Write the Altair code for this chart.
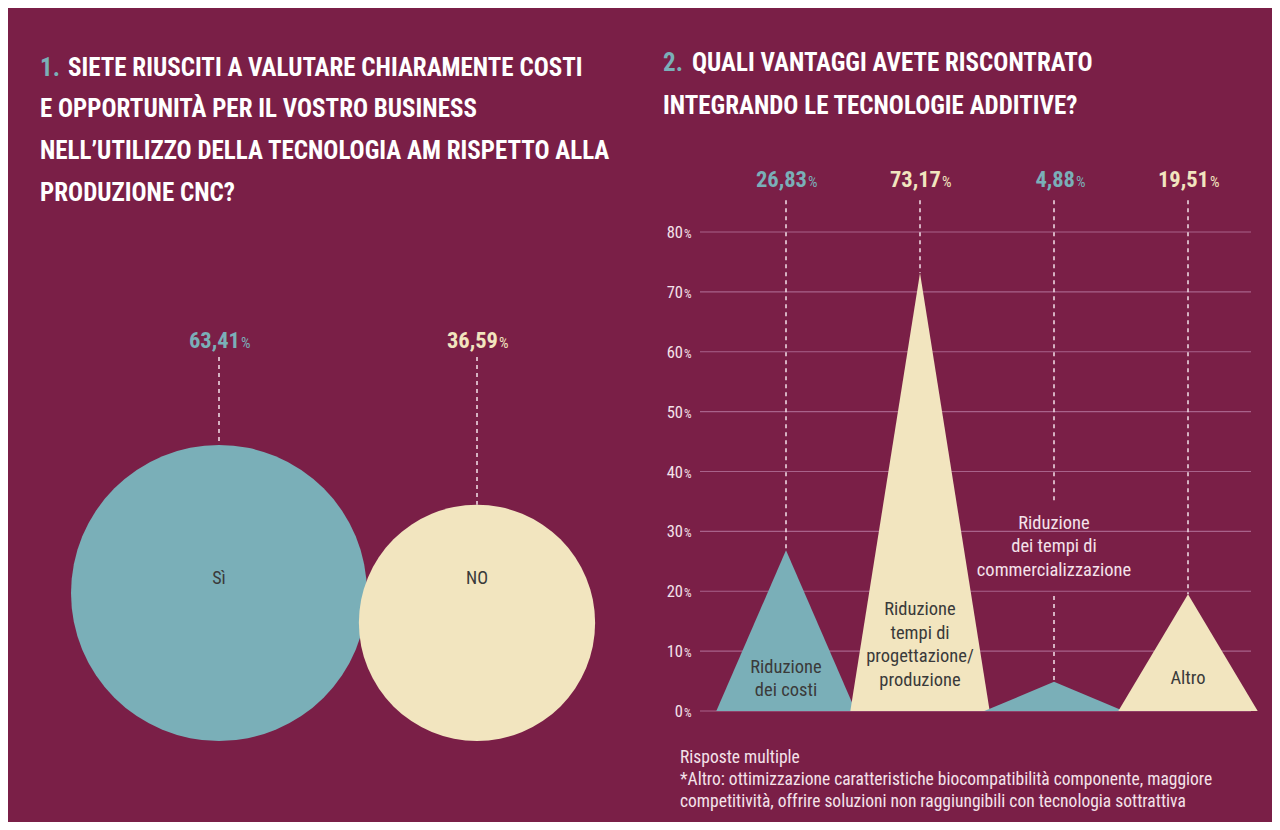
import altair as alt
import pandas as pd

# ---------------- data ----------------
q1_labels = ["Sì", "NO"]
q1_values = [63.41, 36.59]

q2_labels = [
    "Riduzione\ndei costi",
    "Riduzione\ntempi di\nprogettazione/\nproduzione",
    "Riduzione\ndei tempi di\ncommercializzazione",
    "Altro",
]
q2_values = [26.83, 73.17, 4.88, 19.51]
y_ticks = [0, 10, 20, 30, 40, 50, 60, 70, 80]

title1_num = "1."
title1_lines = [
    "SIETE RIUSCITI A VALUTARE CHIARAMENTE COSTI",
    "E OPPORTUNITÀ PER IL VOSTRO BUSINESS",
    "NELL’UTILIZZO DELLA TECNOLOGIA AM RISPETTO ALLA",
    "PRODUZIONE CNC?",
]
title2_num = "2."
title2_lines = [
    "QUALI VANTAGGI AVETE RISCONTRATO",
    "INTEGRANDO LE TECNOLOGIE ADDITIVE?",
]
footnote_lines = [
    "Risposte multiple",
    "*Altro: ottimizzazione caratteristiche biocompatibilità componente, maggiore",
    "competitività, offrire soluzioni non raggiungibili con tecnologia sottrattiva",
]

# ---------------- style ----------------
BG = "#7a1f47"
TEAL = "#7aafb8"
CREAM = "#f2e5bf"
GRID = "#a8628a"
LIGHT = "#f4e2ea"
DARK = "#3a3a3a"
COND = "Roboto Condensed, DejaVu Sans Condensed, sans-serif"
HEAD = "Roboto Condensed, DejaVu Sans Condensed, sans-serif"
W, H = 1264, 814


def fmt(v):
    return f"{v:.2f}".replace(".", ",")


def txt(text, x, y, size, color, weight="normal", align="left", baseline="middle", line_height=None, font=COND):
    kw = dict(align=align, baseline=baseline, font=font, fontSize=size, fontWeight=weight, color=color, lineBreak="\n")
    if line_height:
        kw["lineHeight"] = line_height
    return alt.Chart(pd.DataFrame({"t": [text]})).mark_text(**kw).encode(
        x=alt.value(x), y=alt.value(y), text="t:N"
    )


layers = []

# ---------------- left panel: circles ----------------
left_df = pd.DataFrame({"cat": q1_labels, "val": q1_values, "num": [fmt(v) for v in q1_values]})
lx = alt.Scale(type="point", domain=q1_labels, range=[211, 469], padding=0)
ly = alt.Scale(domain=[0, 733], range=[733, 0])
lcol = alt.Scale(domain=q1_labels, range=[TEAL, CREAM])

base_l = alt.Chart(left_df).transform_calculate(
    r="27*pow(datum.val, 0.41)",
    area="4*datum.r*datum.r",
    top="2*datum.r",
    y0="384",
    ylab="393",
    ycat="162",
)
X_L = alt.X("cat:N", scale=lx, axis=None)

layers.append(
    base_l.mark_point(filled=True, opacity=1, shape="circle", strokeWidth=0).encode(
        x=X_L,
        y=alt.Y("r:Q", scale=ly, axis=None),
        size=alt.Size("area:Q", scale=None, legend=None),
        color=alt.Color("cat:N", scale=lcol, legend=None),
    )
)
layers.append(
    base_l.mark_rule(strokeDash=[4, 4], strokeWidth=1.5, color=LIGHT).encode(
        x=X_L, y=alt.Y("y0:Q", scale=ly, axis=None), y2="top:Q"
    )
)
layers.append(
    base_l.mark_text(align="right", baseline="alphabetic", dx=21, font=HEAD, fontSize=22.5, fontWeight="bold").encode(
        x=X_L, y=alt.Y("ylab:Q", scale=ly, axis=None), text="num:N",
        color=alt.Color("cat:N", scale=lcol, legend=None),
    )
)
layers.append(
    base_l.mark_text(align="left", baseline="alphabetic", dx=22, font=HEAD, fontSize=15).encode(
        x=X_L, y=alt.Y("ylab:Q", scale=ly, axis=None), text=alt.value("%"),
        color=alt.Color("cat:N", scale=lcol, legend=None),
    )
)
layers.append(
    base_l.mark_text(align="center", baseline="middle", font=COND, fontSize=18, color=DARK).encode(
        x=X_L, y=alt.Y("ycat:Q", scale=ly, axis=None), text="cat:N"
    )
)

# ---------------- right panel: triangles ----------------
HW = 0.52
rx = alt.Scale(domain=[0, 3], range=[778, 1180])
ry = alt.Scale(domain=[0, 80], range=[703, 224])
rcol = alt.Scale(domain=[0, 1, 2, 3], range=[TEAL, CREAM, TEAL, CREAM])

tri_rows = []
for i, v in enumerate(q2_values):
    tri_rows += [
        {"k": i, "pos": i - HW, "y": 0.0},
        {"k": i, "pos": i, "y": v},
        {"k": i, "pos": i + HW, "y": 0.0},
    ]
tri_df = pd.DataFrame(tri_rows)

# gridlines
grid_df = pd.DataFrame({"t": y_ticks, "lab": [str(t) for t in y_ticks]})
layers.append(
    alt.Chart(grid_df).mark_rule(color=GRID, strokeWidth=1.2).encode(
        y=alt.Y("t:Q", scale=ry, axis=None), x=alt.value(692), x2=alt.value(1243)
    )
)
layers.append(
    alt.Chart(grid_df).mark_text(align="right", baseline="alphabetic", dy=6, font=COND, fontSize=16.5, color=LIGHT).encode(
        y=alt.Y("t:Q", scale=ry, axis=None), x=alt.value(675), text="lab:N"
    )
)
layers.append(
    alt.Chart(grid_df).mark_text(align="left", baseline="alphabetic", dy=6, font=COND, fontSize=12, color=LIGHT).encode(
        y=alt.Y("t:Q", scale=ry, axis=None), x=alt.value(676), text=alt.value("%")
    )
)

# triangles
for i in range(len(q2_values)):
    layers.append(
        alt.Chart(tri_df[tri_df.k == i]).mark_area(opacity=1, line=False).encode(
            x=alt.X("pos:Q", scale=rx, axis=None),
            y=alt.Y("y:Q", scale=ry, axis=None, stack=None),
            color=alt.Color("k:O", scale=rcol, legend=None),
        )
    )

# dashed leader lines (third one interrupted by its outside label)
OUTSIDE = 2
TOP = 85.3
rule_rows = []
for i, v in enumerate(q2_values):
    if i == OUTSIDE:
        rule_rows += [{"k": i, "a": TOP, "b": 35.2}, {"k": i, "a": 19.2, "b": v}]
    else:
        rule_rows.append({"k": i, "a": TOP, "b": v})
layers.append(
    alt.Chart(pd.DataFrame(rule_rows)).mark_rule(strokeDash=[4, 4], strokeWidth=1.5, color=LIGHT).encode(
        x=alt.X("k:Q", scale=rx, axis=None), y=alt.Y("a:Q", scale=ry, axis=None), y2="b:Q"
    )
)

# percentage labels on top
pct_df = pd.DataFrame({"k": list(range(len(q2_values))), "num": [fmt(v) for v in q2_values]}).assign(yl=87.5)
layers.append(
    alt.Chart(pct_df).mark_text(align="right", baseline="alphabetic", dx=21, font=HEAD, fontSize=22.5, fontWeight="bold").encode(
        x=alt.X("k:Q", scale=rx, axis=None), y=alt.Y("yl:Q", scale=ry, axis=None), text="num:N",
        color=alt.Color("k:O", scale=rcol, legend=None),
    )
)
layers.append(
    alt.Chart(pct_df).mark_text(align="left", baseline="alphabetic", dx=22, font=HEAD, fontSize=15).encode(
        x=alt.X("k:Q", scale=rx, axis=None), y=alt.Y("yl:Q", scale=ry, axis=None), text=alt.value("%"),
        color=alt.Color("k:O", scale=rcol, legend=None),
    )
)

# category labels (y = first line)
label_y = [7.35, 17.0, 31.4, 5.5]
lab_df = pd.DataFrame({
    "k": list(range(len(q2_labels))),
    "lab": q2_labels,
    "ly": label_y,
    "out": [i == OUTSIDE for i in range(len(q2_labels))],
})
layers.append(
    alt.Chart(lab_df).mark_text(align="center", baseline="middle", font=COND, fontSize=18.5, lineBreak="\n", lineHeight=23.5).encode(
        x=alt.X("k:Q", scale=rx, axis=None), y=alt.Y("ly:Q", scale=ry, axis=None), text="lab:N",
        color=alt.Color("out:N", scale=alt.Scale(domain=[False, True], range=[DARK, LIGHT]), legend=None),
    )
)

# ---------------- titles & notes ----------------
TS = 25
layers.append(txt(title1_num, 32, 60, TS, TEAL, "bold", font=HEAD))
layers.append(txt(title1_lines[0], 60, 60, TS, "white", "bold", font=HEAD))
layers.append(txt("\n".join(title1_lines[1:]), 32, 101, TS, "white", "bold", line_height=42, font=HEAD))
layers.append(txt(title2_num, 655, 55, TS, TEAL, "bold", font=HEAD))
layers.append(txt(title2_lines[0], 684, 55, TS, "white", "bold", font=HEAD))
layers.append(txt(title2_lines[1], 655, 98, TS, "white", "bold", font=HEAD))
layers.append(txt("\n".join(footnote_lines), 672, 750, 17.5, LIGHT, line_height=22))

chart = (
    alt.layer(*layers)
    .resolve_scale(x="independent", y="independent", color="independent", size="independent")
    .properties(width=W, height=H, background=BG, padding=0)
    .configure_view(stroke=None)
)

chart.save("out.html", embed_options={"renderer": "svg", "actions": False})
